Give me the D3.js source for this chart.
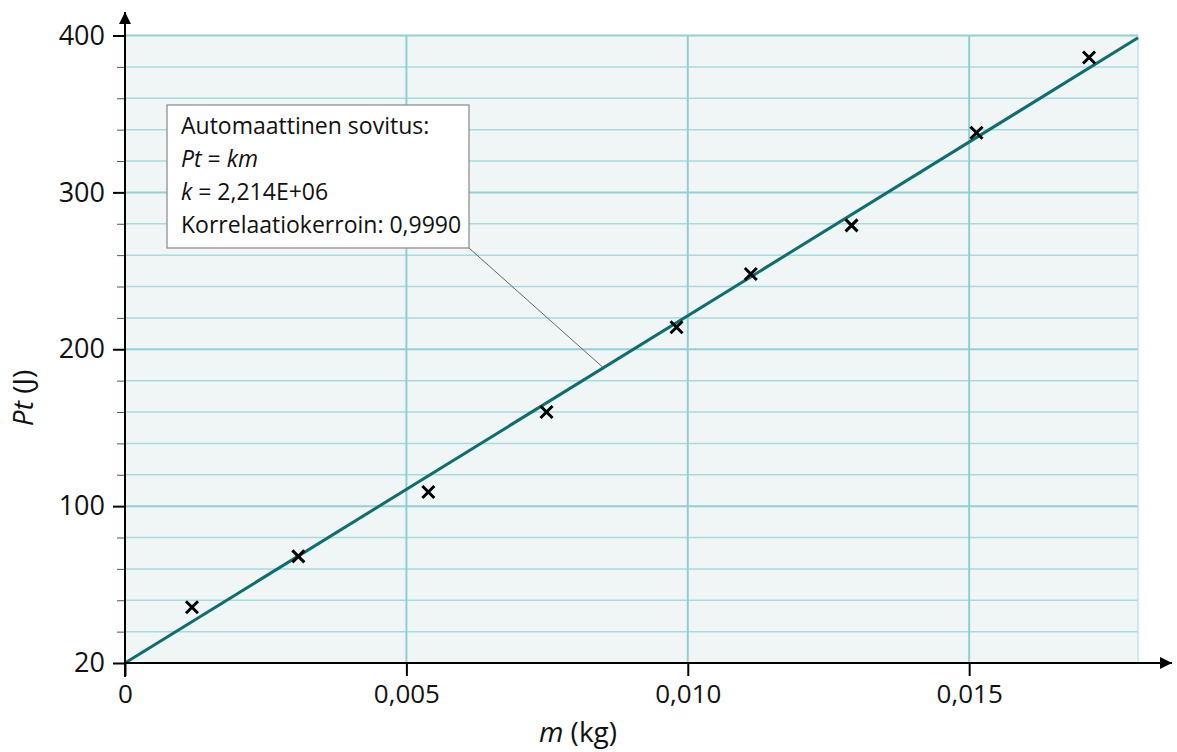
<!DOCTYPE html>
<html>
<head>
<meta charset="utf-8">
<script src="https://cdn.jsdelivr.net/npm/d3@7"></script>
<style>
  body { margin: 0; background: #fff; }
  svg { display: block; font-family: "Open Sans", sans-serif; }
</style>
</head>
<body>
<svg id="chart" width="1177" height="752"></svg>
<script>
// measured values (m in kg, Pt in J)
const massValues = [0.00119, 0.00308, 0.00539, 0.00749, 0.00980, 0.01112, 0.01291, 0.01513, 0.01713];
const energyValues = [35.5, 68, 109, 160, 214, 248, 279, 338, 386];
const fitSlope = 22140;          // slope of the drawn fit line
const xTicks = [0, 0.005, 0.010, 0.015];
const yTicks = [0, 100, 200, 300, 400];
const yTickLabels = ["20", "100", "200", "300", "400"];
const yMinorTicks = d3.range(20, 400, 20);
const fitText = ["Automaattinen sovitus:", "Pt = km", "k = 2,214E+06", "Korrelaatiokerroin: 0,9990"];

const svg = d3.select("#chart");
const plotLeft = 125, plotRight = 1138, plotTop = 35.5, plotBottom = 663;

const fi = d3.formatLocale({ decimal: ",", thousands: " ", grouping: [3], currency: ["", ""] });

const x = d3.scaleLinear().domain([0, 0.018]).range([plotLeft, plotRight]);
const y = d3.scaleLinear().domain([0, 400]).range([plotBottom, plotTop]);

// plot background
svg.append("rect")
  .attr("x", plotLeft).attr("y", plotTop)
  .attr("width", plotRight - plotLeft).attr("height", plotBottom - plotTop)
  .attr("fill", "#f0f6f6");

// horizontal grid
svg.append("g").selectAll("line")
  .data(yMinorTicks.concat([400]))
  .join("line")
    .attr("x1", plotLeft).attr("x2", plotRight)
    .attr("y1", d => y(d)).attr("y2", d => y(d))
    .attr("stroke", d => d % 100 === 0 ? "#93d0d4" : "#a9dadc")
    .attr("stroke-width", d => d % 100 === 0 ? 2 : 1.5);

// vertical grid
svg.append("g").selectAll("line")
  .data(xTicks.slice(1))
  .join("line")
    .attr("x1", d => x(d)).attr("x2", d => x(d))
    .attr("y1", plotTop).attr("y2", plotBottom)
    .attr("stroke", "#8fcfd4")
    .attr("stroke-width", 2);

svg.append("line")
  .attr("x1", plotRight).attr("x2", plotRight)
  .attr("y1", plotTop).attr("y2", plotBottom)
  .attr("stroke", "#bfe3e5").attr("stroke-width", 1.5);

// fit line
svg.append("line")
  .attr("x1", x(0)).attr("y1", y(0))
  .attr("x2", x(0.018)).attr("y2", y(fitSlope * 0.018))
  .attr("stroke", "#0e6e70")
  .attr("stroke-width", 3);

// leader from box to line
const boxX = 167, boxY = 105, boxW = 302, boxH = 143;
const leaderM = 0.0085;
svg.append("line")
  .attr("x1", boxX + boxW).attr("y1", boxY + boxH)
  .attr("x2", x(leaderM)).attr("y2", y(fitSlope * leaderM))
  .attr("stroke", "#666").attr("stroke-width", 1);

// data markers
const s = 6;
svg.append("g").selectAll("path")
  .data(massValues.map((m, i) => [m, energyValues[i]]))
  .join("path")
    .attr("d", d => {
      const cx = x(d[0]), cy = y(d[1]);
      return `M${cx - s},${cy - s}L${cx + s},${cy + s}M${cx - s},${cy + s}L${cx + s},${cy - s}`;
    })
    .attr("stroke", "#000")
    .attr("stroke-width", 3);

// minor y ticks
svg.append("g")
  .attr("transform", `translate(${plotLeft},0)`)
  .call(d3.axisLeft(y).tickValues(yMinorTicks.filter(d => d % 100 !== 0)).tickSize(8).tickFormat(""))
  .call(g => g.select(".domain").remove())
  .call(g => g.selectAll("line").attr("stroke", "#555").attr("stroke-width", 1));

// y axis
svg.append("g")
  .attr("transform", `translate(${plotLeft},0)`)
  .call(d3.axisLeft(y).tickValues(yTicks).tickSize(12).tickPadding(8)
    .tickFormat((d, i) => yTickLabels[i]))
  .call(g => g.select(".domain").remove())
  .call(g => g.selectAll("line").attr("stroke", "#000").attr("stroke-width", 2))
  .call(g => g.selectAll("text").attr("font-size", 27).attr("fill", "#111")
    .attr("font-family", "'Open Sans', sans-serif"));

// x axis
svg.append("g")
  .attr("transform", `translate(0,${plotBottom})`)
  .call(d3.axisBottom(x).tickValues(xTicks).tickSize(13).tickPadding(9)
    .tickFormat(d => d === 0 ? "0" : fi.format(".3f")(d)))
  .call(g => g.select(".domain").remove())
  .call(g => g.selectAll("line").attr("stroke", "#000").attr("stroke-width", 2))
  .call(g => g.selectAll("text").attr("font-size", 26).attr("fill", "#111")
    .attr("font-family", "'Open Sans', sans-serif"));

// axis lines with arrows
svg.append("defs").append("marker")
  .attr("id", "arrow")
  .attr("viewBox", "0 0 10 10")
  .attr("refX", 10).attr("refY", 5)
  .attr("markerWidth", 6).attr("markerHeight", 6)
  .attr("markerUnits", "strokeWidth")
  .attr("orient", "auto")
  .append("path").attr("d", "M0,0L10,5L0,10z").attr("fill", "#000");

svg.append("line")
  .attr("x1", plotLeft).attr("y1", plotBottom)
  .attr("x2", 1172).attr("y2", plotBottom)
  .attr("stroke", "#000").attr("stroke-width", 2)
  .attr("marker-end", "url(#arrow)");

svg.append("line")
  .attr("x1", plotLeft).attr("y1", plotBottom + 14)
  .attr("x2", plotLeft).attr("y2", 12)
  .attr("stroke", "#000").attr("stroke-width", 2)
  .attr("marker-end", "url(#arrow)");

// fit info box
svg.append("rect")
  .attr("x", boxX).attr("y", boxY)
  .attr("width", boxW).attr("height", boxH)
  .attr("fill", "#fff").attr("stroke", "#888").attr("stroke-width", 1.2);

const info = svg.append("text")
  .attr("font-size", 23).attr("fill", "#111");
fitText.forEach((line, i) => {
  const t = info.append("tspan").attr("x", 181).attr("y", 134 + i * 33);
  if (i === 1) {
    t.append("tspan").attr("font-style", "italic").text("Pt");
    t.append("tspan").text(" = ");
    t.append("tspan").attr("font-style", "italic").text("km");
  } else if (i === 2) {
    t.append("tspan").attr("font-style", "italic").text("k");
    t.append("tspan").text(line.slice(1));
  } else {
    t.text(line);
  }
});

// axis titles
const xt = svg.append("text")
  .attr("x", 578).attr("y", 742)
  .attr("text-anchor", "middle").attr("font-size", 28).attr("fill", "#111");
xt.append("tspan").attr("font-style", "italic").text("m");
xt.append("tspan").text(" (kg)");

const yt = svg.append("text")
  .attr("transform", "translate(33,398) rotate(-90)")
  .attr("text-anchor", "middle").attr("font-size", 28).attr("fill", "#111");
yt.append("tspan").attr("font-style", "italic").text("Pt");
yt.append("tspan").text(" (J)");
</script>
</body>
</html>
